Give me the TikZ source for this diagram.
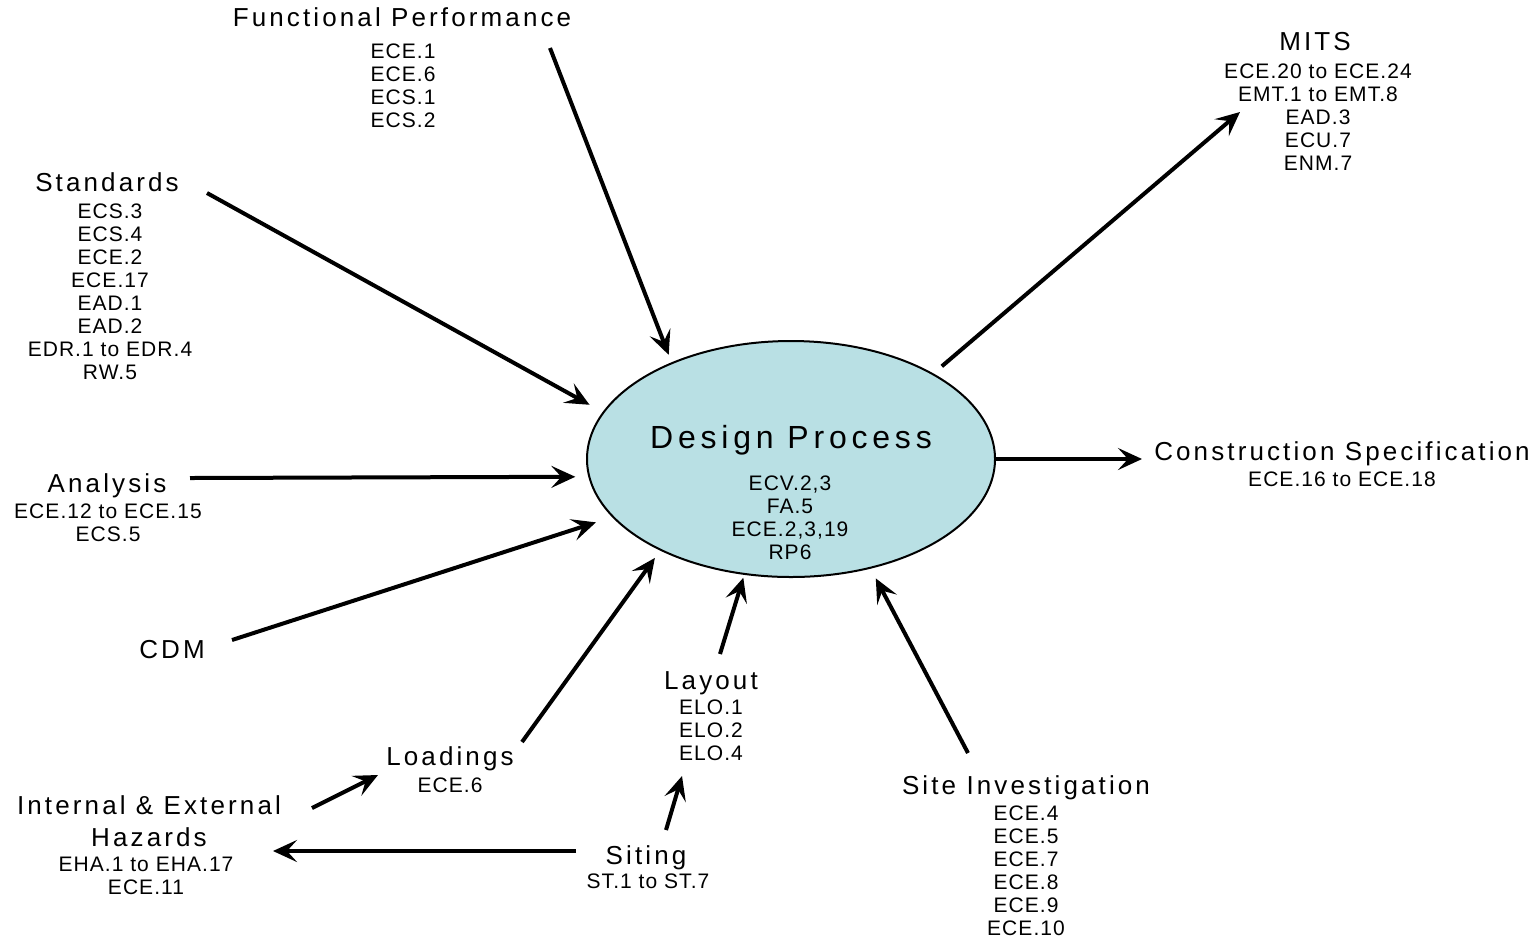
\documentclass[tikz,border=0pt]{standalone}
\usepackage{fontspec}
\setmainfont{Liberation Sans}
\newfontfamily\hdfont[LetterSpace=12]{Liberation Sans}
\newfontfamily\smfont[LetterSpace=5]{Liberation Sans}
\newfontfamily\dpfont[LetterSpace=15]{Liberation Sans}
\usepackage{tikz}
\usetikzlibrary{shapes.geometric,arrows.meta,positioning,calc}
\definecolor{procfill}{RGB}{185,224,228}

\begin{document}
\begin{tikzpicture}[x=0.5pt,y=-0.5pt,
  hd/.style={inner sep=0pt,anchor=north,align=center,
    font=\hdfont\fontsize{13pt}{16pt}\selectfont},
  refs/.style={inner sep=0pt,anchor=north,align=center,
    font=\smfont\fontsize{10.5pt}{11.5pt}\selectfont},
  flow/.style={-{Stealth[length=12pt,width=11pt,inset=5pt]},line width=2pt}]
\useasboundingbox (0,0) rectangle (1536,939);
% central process
\node[ellipse,draw,line width=1pt,fill=procfill,minimum width=204pt,
  minimum height=118pt] (dp) at (791,459) {};
\node[inner sep=0pt,anchor=north,font=\dpfont\fontsize{16pt}{19pt}\selectfont]
  (dpt) at (791,425) {Design Process};
\node[refs] (dpl) at (790,475) {ECV.2,3\\FA.5\\ECE.2,3,19\\RP6};
% inputs and outputs
\node[hd] (fp) at (402,7) {Functional Performance};
\node[refs] (fpl) at (403,43) {ECE.1\\ECE.6\\ECS.1\\ECS.2};
\node[hd] (std) at (107,172) {Standards};
\node[refs] (stdl) at (110,203)
  {ECS.3\\ECS.4\\ECE.2\\ECE.17\\EAD.1\\EAD.2\\EDR.1 to EDR.4\\RW.5};
\node[hd] (ana) at (107,473) {Analysis};
\node[refs] (anal) at (108,503) {ECE.12 to ECE.15\\ECS.5};
\node[hd] (cdm) at (172,640) {CDM};
\node[hd] (ld) at (450,746) {Loadings};
\node[refs] (ldl) at (450,777) {ECE.6};
\node[hd] (hz) at (149,795) {Internal \& External\\Hazards};
\node[refs] (hzl) at (146,857) {EHA.1 to EHA.17\\ECE.11};
\node[hd] (sit) at (646,845) {Siting};
\node[refs] (sitl) at (648,873) {ST.1 to ST.7};
\node[hd] (lay) at (711,671) {Layout};
\node[refs] (layl) at (711,699) {ELO.1\\ELO.2\\ELO.4};
\node[hd] (si) at (1026,775) {Site Investigation};
\node[refs] (sil) at (1026,805) {ECE.4\\ECE.5\\ECE.7\\ECE.8\\ECE.9\\ECE.10};
\node[hd] (mits) at (1315,32) {MITS};
\node[refs] (mitsl) at (1318,63)
  {ECE.20 to ECE.24\\EMT.1 to EMT.8\\EAD.3\\ECU.7\\ENM.7};
\node[hd] (cs) at (1342,441) {Construction Specification};
\node[refs] (csl) at (1342,471) {ECE.16 to ECE.18};
% free ends of the connectors
\coordinate (fpT) at (550,48);
\coordinate (stdT) at (207,193);
\coordinate (anaT) at (190,478);
\coordinate (cdmT) at (232,640);
\coordinate (ldT) at (522,742);
\coordinate (layT) at (720,654);
\coordinate (siT) at (968,753);
\coordinate (mitsH) at (1240,112);
\coordinate (csH) at (1142,459);
\coordinate (hzT) at (312,808);
\coordinate (ldH) at (378,775);
\coordinate (sitT) at (576,851);
\coordinate (hzH) at (273,851);
\coordinate (sitU) at (666,830);
\coordinate (layH) at (682,776);
% connectors
\draw[flow,shorten >=4pt] (fpT) -- (dp.141);
\draw[flow,shorten >=7.5pt] (stdT) -- (dp.166);
\draw[flow,shorten >=6.5pt] (anaT) -- (dp.185);
\draw[flow,shorten >=8.5pt] (cdmT) -- (dp.198);
\draw[flow,shorten >=4.5pt] (ldT) -- (dp.215);
\draw[flow,shorten >=1.5pt] (layT) -- (dp.248);
\draw[flow,shorten >=5.5pt] (siT) -- (dp.306);
\draw[flow,shorten <=5.5pt] (dp.31) -- (mitsH);
\draw[flow] (dp.east) -- (csH);
\draw[flow] (hzT) -- (ldH);
\draw[flow] (sitT) -- (hzH);
\draw[flow] (sitU) -- (layH);
\end{tikzpicture}
\end{document}
